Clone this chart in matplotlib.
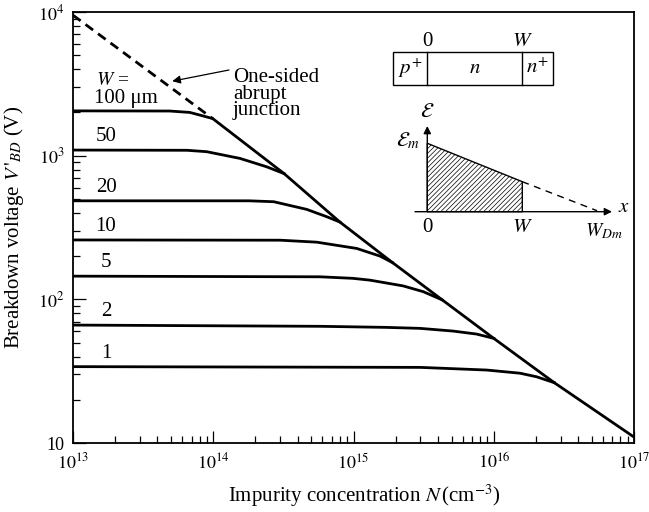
import matplotlib
matplotlib.use('Agg')
import matplotlib.pyplot as plt
from matplotlib.patches import Polygon, Rectangle
from matplotlib.ticker import LogLocator, FixedLocator, NullFormatter, FixedFormatter

plt.rcParams['font.family'] = ['Liberation Serif', 'DejaVu Serif']
plt.rcParams['mathtext.fontset'] = 'stix'
plt.rcParams['hatch.linewidth'] = 0.5

# ---------------- data ----------------
abrupt_N = [1e13, 1e14, 3.2e14, 8e14, 1.9e15, 4.3e15, 1e16, 2.7e16, 1e17]
abrupt_V = [9500, 1800, 750, 345, 180, 99, 53.5, 26.3, 11.0]
dashed_upto = 1.0e14   # abrupt line is dashed below this N

width_labels = ['100', '50', '20', '10', '5', '2', '1']

W100_N = [1e13, 4.9e13, 6.8e13, 8.05e13, 9.75e13]
W100_V = [2050, 2045, 2000, 1915, 1820]
W50_N = [1e13, 6.5e13, 8.97e13, 1.55e14, 2.40e14, 3.2e14]
W50_V = [1094, 1090, 1066, 957, 837, 750]
W20_N = [1e13, 1.8e14, 2.7e14, 4.63e14, 6.44e14, 8e14]
W20_V = [485, 485, 478, 423, 376, 345]
W10_N = [1e13, 3.0e14, 5.47e14, 1.055e15, 1.545e15, 1.9e15]
W10_V = [259, 258, 250, 226, 200, 180]
W5_N = [1e13, 5.77e14, 9.9e14, 1.31e15, 2.26e15, 3.15e15, 4.3e15]
W5_V = [145, 143.5, 140, 136, 124, 113, 99]
W2_N = [1e13, 5.77e14, 1.7e15, 2.98e15, 5.15e15, 7.55e15, 1e16]
W2_V = [66.2, 64.9, 63.8, 62.8, 60.1, 57.3, 53.5]
W1_N = [1e13, 3e15, 8.9e15, 1.54e16, 2.02e16, 2.7e16]
W1_V = [34.0, 33.6, 32.2, 30.6, 28.9, 26.3]

curves_N = [W100_N, W50_N, W20_N, W10_N, W5_N, W2_N, W1_N]
curves_V = [W100_V, W50_V, W20_V, W10_V, W5_V, W2_V, W1_V]

x_ticks = [1e13, 1e14, 1e15, 1e16, 1e17]
x_ticklabels = ['$10^{13}$', '$10^{14}$', '$10^{15}$', '$10^{16}$', '$10^{17}$']
y_ticks = [10, 1e2, 1e3, 1e4]
y_ticklabels = ['10', '$10^{2}$', '$10^{3}$', '$10^{4}$']

# ---------------- figure ----------------
W_PX, H_PX = 649, 512
fig = plt.figure(figsize=(W_PX / 100, H_PX / 100), dpi=100)
L, R, T, B = 73, 634, 12, 443
ax = fig.add_axes([L / W_PX, 1 - B / H_PX, (R - L) / W_PX, (B - T) / H_PX])
ax.set_xscale('log')
ax.set_yscale('log')
ax.set_xlim(1e13, 1e17)
ax.set_ylim(10, 1e4)

FS = 15
FT = 13
LW = 2.0

# abrupt junction line: dashed part + solid part
dN = [n for n in abrupt_N if n <= dashed_upto]
dV = [v for n, v in zip(abrupt_N, abrupt_V) if n <= dashed_upto]
sN = [n for n in abrupt_N if n >= dashed_upto]
sV = [v for n, v in zip(abrupt_N, abrupt_V) if n >= dashed_upto]
ax.plot(dN, dV, color='black', lw=LW, linestyle=(0, (3.4, 2.2)), solid_capstyle='butt')
ax.plot(sN, sV, color='black', lw=LW, solid_capstyle='round')

for cN, cV in zip(curves_N, curves_V):
    ax.plot(cN, cV, color='black', lw=LW, solid_joinstyle='round')

# curve labels
lab_x = 1.72e13
for lbl, cV in zip(width_labels[1:], curves_V[1:]):
    ax.text(lab_x, cV[0] * 1.24, lbl, ha='center', va='center', fontsize=FS)
ax.text(1.47e13, 2050 * 1.64, '$W$ =', ha='left', va='center', fontsize=14)
ax.text(1.42e13, 2050 * 1.22, '100 μm', ha='left', va='center', fontsize=FS)

# ticks
ax.xaxis.set_major_locator(FixedLocator(x_ticks))
ax.xaxis.set_major_formatter(FixedFormatter(x_ticklabels))
ax.xaxis.set_minor_locator(LogLocator(base=10, subs=range(2, 10), numticks=20))
ax.xaxis.set_minor_formatter(NullFormatter())
ax.yaxis.set_major_locator(FixedLocator(y_ticks))
ax.yaxis.set_major_formatter(FixedFormatter(y_ticklabels))
ax.yaxis.set_minor_locator(LogLocator(base=10, subs=range(2, 10), numticks=20))
ax.yaxis.set_minor_formatter(NullFormatter())
ax.tick_params(which='both', direction='in', top=False, right=False, width=0.9)
ax.tick_params(which='major', length=9, labelsize=FT)
ax.tick_params(which='minor', length=5)
ax.tick_params(axis='x', which='major', pad=7)
ax.tick_params(axis='y', which='major', pad=6)
for s in ax.spines.values():
    s.set_linewidth(1.3)

ax.set_xlabel('Impurity concentration $N\\,$(cm$^{-3}$)', fontsize=FS)
ax.set_ylabel("Breakdown voltage $V\\,'_{BD}$ (V)", fontsize=FS)
ax.xaxis.set_label_coords(0.519, -0.093)
ax.yaxis.set_label_coords(-0.084, 0.5)

# ---------------- overlay (pixel coordinates) ----------------
ov = fig.add_axes([0, 0, 1, 1], facecolor='none')
ov.set_xlim(0, W_PX)
ov.set_ylim(H_PX, 0)
ov.axis('off')

# annotation
ov.text(233, 94, 'One-sided\nabrupt\njunction', ha='left', va='center',
        fontsize=FS, linespacing=0.82)
tip = ax.transData.transform((5.1e13, 3300))
tip_px = (tip[0], H_PX - tip[1])
ov.annotate('', xy=tip_px, xytext=(229, 70),
            arrowprops=dict(arrowstyle='-|>', lw=0.9, color='black',
                            shrinkA=0, shrinkB=0, mutation_scale=12))

# inset: device bar
bx0, bx1, by0, by1 = 393, 553, 52, 85
d0, d1 = 427.3, 522.3
ov.add_patch(Rectangle((bx0, by0), bx1 - bx0, by1 - by0, fill=False, lw=1.0, ec='black'))
ov.plot([d0, d0], [by0, by1], color='black', lw=1.0)
ov.plot([d1, d1], [by0, by1], color='black', lw=1.0)
ov.text((bx0 + d0) / 2, (by0 + by1) / 2, '$p^{+}$', ha='center', va='center', fontsize=FS)
ov.text((d0 + d1) / 2, (by0 + by1) / 2, '$n$', ha='center', va='center', fontsize=FS)
ov.text((d1 + bx1) / 2, (by0 + by1) / 2, '$n^{+}$', ha='center', va='center', fontsize=FS)
ov.text(d0, 41, '0', ha='center', va='center', fontsize=FS)
ov.text(d1, 41, '$W$', ha='center', va='center', fontsize=FS)

# inset: field diagram
x_axis_y = 211.7
em_y, ew_y = 143.3, 181.7
ov.add_patch(Polygon([(d0, x_axis_y), (d0, em_y), (d1, ew_y), (d1, x_axis_y)],
                     closed=True, fill=False, hatch='///////', ec='black', lw=1.0))
ov.plot([d1, 597], [ew_y, x_axis_y - 1], color='black', lw=1.0, linestyle=(0, (5, 4)))
ov.annotate('', xy=(612, x_axis_y), xytext=(415, x_axis_y),
            arrowprops=dict(arrowstyle='-|>', lw=1.0, color='black',
                            shrinkA=0, shrinkB=0, mutation_scale=11))
ov.annotate('', xy=(d0, 126), xytext=(d0, x_axis_y),
            arrowprops=dict(arrowstyle='-|>', lw=1.0, color='black',
                            shrinkA=0, shrinkB=0, mutation_scale=11))
ov.text(d0, 112, '$\\mathcal{E}$', ha='center', va='center', fontsize=FS)
ov.text(408, 141, '$\\mathcal{E}_m$', ha='center', va='center', fontsize=FS)
ov.text(d0, 227, '0', ha='center', va='center', fontsize=FS)
ov.text(d1, 227, '$W$', ha='center', va='center', fontsize=FS)
ov.text(604, 231, '$W_{Dm}$', ha='center', va='center', fontsize=14)
ov.text(624, 207, '$x$', ha='center', va='center', fontsize=FS)

fig.savefig('out.png', dpi=100)
